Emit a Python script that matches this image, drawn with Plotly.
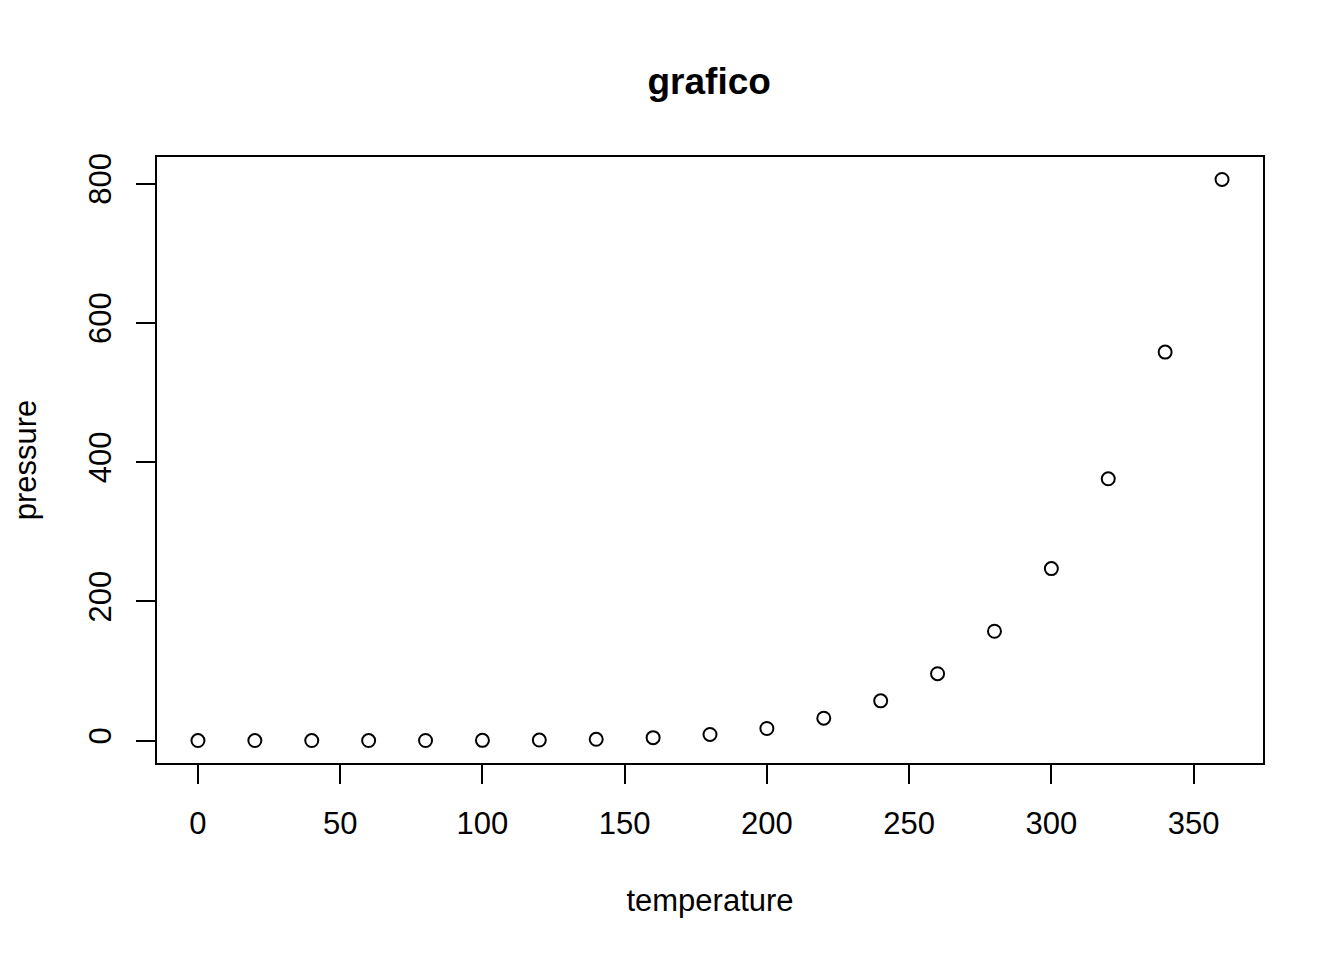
import plotly.graph_objects as go

# datos: temperatura vs presion de vapor (pressure de R)
temperatura = [0, 20, 40, 60, 80, 100, 120, 140, 160, 180,
               200, 220, 240, 260, 280, 300, 320, 340, 360]
presion = [0.0002, 0.0012, 0.0060, 0.0300, 0.0900, 0.2700, 0.7500, 1.8500, 4.2000, 8.8000,
           17.3000, 32.1000, 57.0000, 96.0000, 157.0000, 247.0000, 376.0000, 558.0000, 806.0000]

ticks_x = [0, 50, 100, 150, 200, 250, 300, 350]
ticks_y = [0, 200, 400, 600, 800]

fuente = "Liberation Sans, Arial, sans-serif"

fig = go.Figure()

# puntos abiertos estilo plot() de R
fig.add_trace(go.Scatter(x=temperatura, y=presion, mode="markers",
                         marker=dict(symbol="circle-open", size=13, color="black",
                                     line=dict(width=2, color="black")),
                         showlegend=False))

# rango con el 4% extra que agrega R
def rango(v):
    d = (max(v) - min(v)) * 0.04
    return [min(v) - d, max(v) + d]

ejes = dict(showgrid=False, zeroline=False, showline=True, mirror=True,
            linecolor="black", linewidth=2, ticks="outside", ticklen=19,
            tickwidth=2, tickcolor="black",
            tickfont=dict(family=fuente, size=31, color="black"))

# la pagina deja 8px de margen, se descuentan del tamano
fig.update_layout(
    width=1328, height=944,
    paper_bgcolor="white", plot_bgcolor="white",
    margin=dict(l=149, r=73, t=149, b=189),
    title=dict(text="<b>grafico</b>", x=0.528, xanchor="center",
               y=1 - 73 / 944, yanchor="middle", yref="container",
               font=dict(family=fuente, size=37, color="black")),
    xaxis=dict(range=rango(temperatura), tickvals=ticks_x, ticklabelstandoff=13,
               title=dict(text="temperature", standoff=49,
                          font=dict(family=fuente, size=31, color="black")),
               **ejes),
    yaxis=dict(range=rango(presion), tickvals=ticks_y, tickangle=-90,
               ticklabelstandoff=13,
               title=dict(text="pressure", standoff=40,
                          font=dict(family=fuente, size=31, color="black")),
               **ejes),
)

fig.write_html("out.html")
